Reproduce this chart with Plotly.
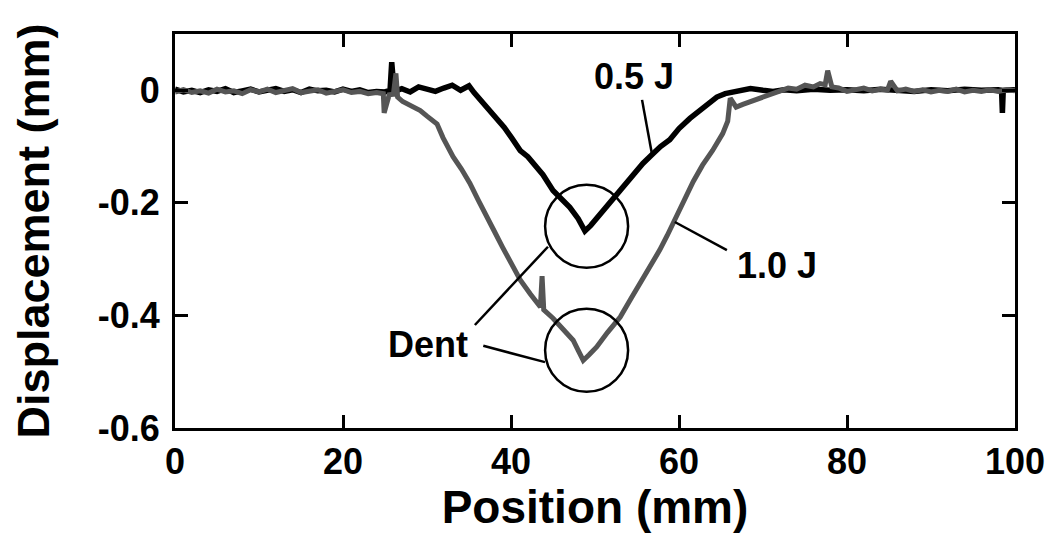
import plotly.graph_objects as go

# ---- data ----
pos_05J = [0, 1, 2, 3, 4, 5, 6, 7, 8, 9, 10, 11, 12, 13, 14, 15, 16, 17, 18, 19, 20, 21, 22, 23, 24,
           25.0, 25.6, 25.8, 26.1, 27, 28, 29, 30, 31, 32, 33, 34, 35, 35.6, 36.4, 37.3, 38.3, 39.2,
           40.1, 41.1, 42.0, 42.9, 43.8, 45.0, 46.0, 47.0, 48.0, 48.8, 49.5, 50.5, 51.4, 52.6, 53.5,
           54.6, 55.7, 56.8, 57.8, 58.9, 60.0, 61.3, 62.5, 63.5, 64.5, 65.5, 66.4, 67.3, 68.5, 70,
           71.2, 72.5, 74, 76, 78, 80, 82, 84, 86, 88, 90, 92, 94, 96, 98, 98.4, 98.5, 98.6, 100]
disp_05J = [0.002, -0.003, 0.000, -0.004, 0.001, -0.002, 0.003, -0.004, -0.001, 0.002, -0.003, 0.000,
            0.003, -0.002, 0.001, -0.004, 0.002, -0.001, 0.000, -0.003, 0.002, -0.002, 0.001, -0.004,
            -0.002,
            -0.003, 0.000, 0.050, -0.002, 0.003, -0.003, 0.006, 0.002, -0.002, 0.004, 0.009, 0.000,
            0.008, -0.004, -0.018, -0.032, -0.053, -0.066, -0.085, -0.107, -0.118, -0.135, -0.150,
            -0.178, -0.192, -0.208, -0.228, -0.250, -0.240, -0.222, -0.205, -0.183, -0.170, -0.150,
            -0.130, -0.114, -0.100, -0.088, -0.068, -0.050, -0.036, -0.022, -0.012, -0.006, -0.003,
            0.000, 0.003, 0.000, -0.002, 0.001, -0.001, 0.002, 0.000, 0.001, -0.001, 0.002, 0.000,
            -0.002, 0.001, -0.001, 0.002, 0.000, 0.001, 0.000, -0.040, 0.000, 0.001]

pos_10J = [0, 1, 2, 3, 4, 5, 6, 7, 8, 9, 10, 11, 12, 13, 14, 15, 16, 17, 18, 19, 20, 21, 22, 23, 24,
           24.8, 24.9, 25.5, 26.0, 26.3, 26.5, 27.1, 28.2, 29.2, 30.0, 31.2, 31.9, 33.1, 34.1, 35.1,
           36.1, 37.1, 38.0, 39.0, 40.0, 41.1, 42.3, 43.5, 43.7, 43.9, 45.0, 46.2, 47.4, 48.0, 48.6,
           49.3, 50.2, 51.5, 53.0, 54.2, 55.4, 56.5, 57.7, 58.6, 59.3, 60.5, 61.7, 62.8, 64.0, 65.2,
           65.8, 66.1, 66.8, 67.6, 68.5, 69.5, 70.5, 71.2, 72.0, 73.0, 74.0, 75.0, 76.0, 76.8, 77.4,
           77.7, 78.2, 79.0, 80.0, 81.0, 82.0, 83.0, 84.0, 84.8, 85.2, 86.0, 87, 88, 89, 90, 91, 92,
           93, 94, 95, 96, 97, 98, 99, 100]
disp_10J = [-0.003, 0.001, -0.004, -0.001, -0.005, 0.002, -0.003, -0.001, -0.006, 0.001, -0.003, 0.002,
            -0.004, 0.000, 0.003, -0.004, -0.001, 0.001, -0.005, -0.002, 0.001, -0.004, -0.002, -0.006,
            -0.004,
            -0.006, -0.040, -0.008, -0.007, 0.030, -0.012, -0.020, -0.028, -0.036, -0.046, -0.060,
            -0.084, -0.118, -0.140, -0.165, -0.195, -0.226, -0.250, -0.279, -0.305, -0.337, -0.362,
            -0.385, -0.330, -0.390, -0.405, -0.425, -0.444, -0.462, -0.480, -0.470, -0.456, -0.430,
            -0.403, -0.372, -0.343, -0.315, -0.284, -0.258, -0.236, -0.200, -0.162, -0.133, -0.107,
            -0.077, -0.055, -0.014, -0.030, -0.025, -0.020, -0.014, -0.008, -0.005, 0.000, 0.004,
            0.002, 0.009, 0.006, 0.012, 0.010, 0.035, 0.006, 0.004, -0.002, 0.001, 0.004, -0.001,
            0.002, 0.000, 0.016, -0.001, 0.002, -0.002, 0.001, -0.003, 0.000, -0.002, 0.002, -0.003,
            0.000, -0.002, 0.001, -0.002, 0.001, -0.001]

x_ticks = [0, 20, 40, 60, 80, 100]
x_ticklabels = ["0", "20", "40", "60", "80", "100"]
y_ticks = [0, -0.2, -0.4, -0.6]
y_ticklabels = ["0", "-0.2", "-0.4", "-0.6"]

# dent circles: centre position, centre displacement
dent_x = [49.0, 49.0]
dent_y = [-0.2416, -0.4618]

FONT = "Liberation Sans, Arial, sans-serif"

fig = go.Figure()
fig.add_trace(go.Scatter(x=pos_05J, y=disp_05J, mode="lines",
                         line=dict(color="#000000", width=5.5), name="0.5 J"))
fig.add_trace(go.Scatter(x=pos_10J, y=disp_10J, mode="lines",
                         line=dict(color="#555555", width=5), name="1.0 J"))

rx, ry = 4.94, 0.0737
for cx, cy in zip(dent_x, dent_y):
    fig.add_shape(type="circle", xref="x", yref="y",
                  x0=cx - rx, x1=cx + rx, y0=cy - ry, y1=cy + ry,
                  line=dict(color="black", width=2.5))

leaders = [
    ((55.6, -0.017), (56.8, -0.115)),
    ((59.5, -0.234), (65.7, -0.284)),
    ((35.7, -0.417), (44.4, -0.278)),
    ((36.7, -0.454), (44.05, -0.483)),
]
for (xa, ya), (xb, yb) in leaders:
    fig.add_shape(type="line", xref="x", yref="y", x0=xa, y0=ya, x1=xb, y1=yb,
                  line=dict(color="black", width=2.5))

labels = [("0.5 J", 54.6, 0.025), ("1.0 J", 71.7, -0.312), ("Dent", 30.1, -0.451)]
for txt, lx, ly in labels:
    fig.add_annotation(x=lx, y=ly, xref="x", yref="y", text=txt, showarrow=False,
                       font=dict(family=FONT, size=36, color="black", weight="bold"))

axis_common = dict(showline=True, linecolor="black", linewidth=3, mirror="ticks",
                   ticks="inside", ticklen=13, tickwidth=2.5, tickcolor="black",
                   showgrid=False, zeroline=False,
                   tickfont=dict(family=FONT, size=36, color="black", weight="bold"))

fig.update_xaxes(range=[0, 100], tickvals=x_ticks, ticktext=x_ticklabels,
                 title=dict(text="Position (mm)", standoff=2,
                            font=dict(family=FONT, size=46, color="black", weight="bold")),
                 **axis_common)
fig.update_yaxes(range=[-0.6, 0.1], tickvals=y_ticks, ticktext=y_ticklabels,
                 ticklabelstandoff=5,
                 title=dict(text="Displacement (mm)", standoff=42,
                            font=dict(family=FONT, size=45, color="black", weight="bold")),
                 **axis_common)

# page body adds an 8 px offset; figure is sized so the plot area lands where the reference has it
fig.update_layout(width=1047, height=525, showlegend=False,
                  plot_bgcolor="white", paper_bgcolor="white",
                  margin=dict(l=167, r=40, t=26, b=105, autoexpand=False))

fig.write_html("out.html")
